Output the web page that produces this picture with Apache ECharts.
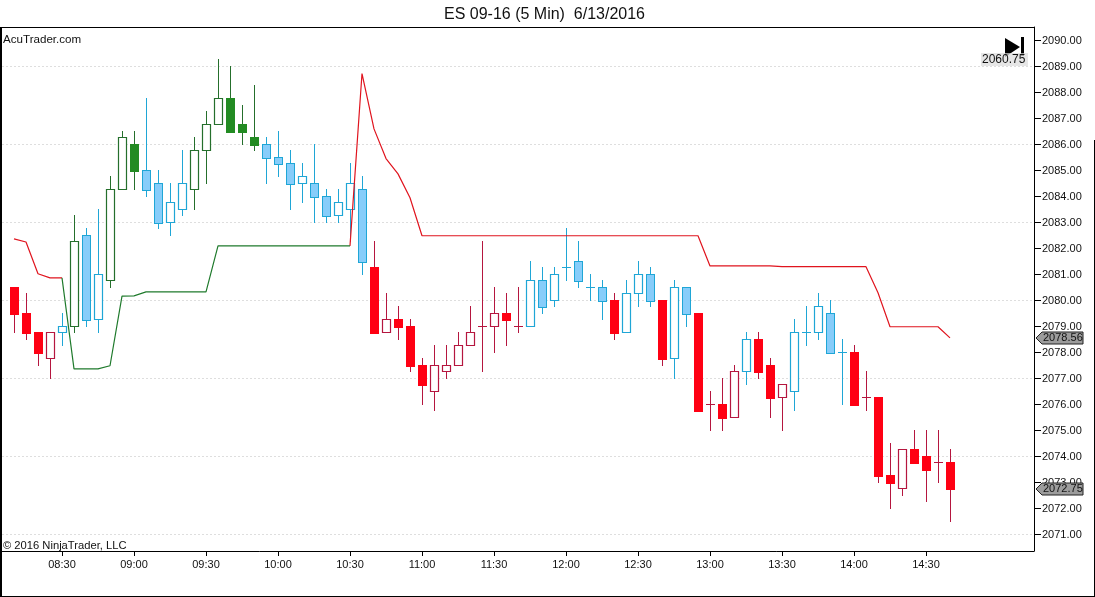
<!DOCTYPE html>
<html>
<head>
<meta charset="utf-8">
<title>ES 09-16 (5 Min)</title>
<style>
html, body { margin: 0; padding: 0; background: #fff; }
#chart { width: 1095px; height: 597px; }
</style>
<script src="https://cdn.jsdelivr.net/npm/echarts@6/dist/echarts.min.js"></script>
</head>
<body>
<div id="chart"></div>
<script>
// time axis, one leading and a few trailing empty slots around the bars
var times = [
    "08:05","08:10","08:15","08:20","08:25","08:30","08:35","08:40","08:45","08:50","08:55",
    "09:00","09:05","09:10","09:15","09:20","09:25","09:30","09:35","09:40","09:45","09:50","09:55",
    "10:00","10:05","10:10","10:15","10:20","10:25","10:30","10:35","10:40","10:45","10:50","10:55",
    "11:00","11:05","11:10","11:15","11:20","11:25","11:30","11:35","11:40","11:45","11:50","11:55",
    "12:00","12:05","12:10","12:15","12:20","12:25","12:30","12:35","12:40","12:45","12:50","12:55",
    "13:00","13:05","13:10","13:15","13:20","13:25","13:30","13:35","13:40","13:45","13:50","13:55",
    "14:00","14:05","14:10","14:15","14:20","14:25","14:30","14:35","14:40","14:45","14:50","14:55",
    "15:00","15:05","15:10","15:15"
]
var timeLabels = ["08:30","09:00","09:30","10:00","10:30","11:00","11:30","12:00","12:30","13:00","13:30","14:00","14:30"]
var priceTicks = [2071,2072,2073,2074,2075,2076,2077,2078,2079,2080,2081,2082,2083,2084,2085,2086,2087,2088,2089,2090]

var barOpen = [
    2080.5,2079.5,2078.75,2077.75,2078.75,2079,2082.5,2079.25,2080.75,2084.25,
    2086,2085,2084.5,2083,2083.5,2084.25,2085.75,2086.75,2087.75,2086.75,
    2086.25,2086,2085.5,2085.25,2084.5,2084.5,2084,2083.25,2083.5,2084.25,
    2081.25,2078.75,2079.25,2079,2077.5,2076.5,2077.25,2077.5,2078.25,2079,
    2079,2079.5,2079,2079,2080.75,2080,2081.25,2081.5,2080.5,2080.5,
    2080,2078.75,2080.25,2081,2080,2077.75,2080.5,2079.5,2076,2076,
    2075.5,2077.25,2078.5,2077.5,2076.25,2076.5,2078.75,2078.75,2079.5,2078,
    2078,2076.25,2076.25,2073.25,2072.75,2074.25,2074,2073.75,2073.75
]
var barHigh = [
    2080.5,2080.25,2078.75,2078.75,2079.5,2083.25,2082.75,2083.5,2084.75,2086.5,
    2086.5,2087.75,2085,2084.5,2085.75,2086.25,2087.25,2089.25,2089,2087.5,
    2088.25,2086.25,2086.5,2085.75,2085.25,2086,2084.25,2084.25,2085.25,2084.75,
    2082.25,2080.25,2079.75,2079.25,2077.75,2078.25,2078.25,2078.75,2079.75,2082.25,
    2080.5,2080.25,2080.5,2081.5,2081.25,2081.25,2082.75,2082.25,2081,2080.75,
    2080.25,2080.75,2081.5,2081.25,2080,2080.75,2080.5,2079.5,2076.5,2077,
    2077.5,2078.75,2078.75,2077.75,2076.75,2079.25,2079.75,2080.25,2080,2078.5,
    2078.25,2077.25,2076.25,2074.5,2074.25,2075,2075,2075,2074.25
]
var barLow = [
    2078.75,2078.5,2077.5,2077,2078.25,2078.75,2079,2078.75,2080.5,2084.25,
    2084.25,2084,2082.75,2082.5,2083.25,2083.5,2084.5,2086.75,2086.5,2086,
    2085.75,2084.5,2084.75,2083.5,2083.75,2083,2083,2083,2082.25,2081,
    2078.75,2078.75,2078.5,2077.25,2076,2075.75,2077,2077.5,2078.25,2077.25,
    2078,2078.25,2078.75,2079,2079.5,2079.75,2080.75,2080.5,2080,2079.25,
    2078.5,2078.75,2079.75,2079.75,2077.5,2077,2079,2075.75,2075,2075,
    2075.5,2076.75,2077,2075.5,2075,2075.75,2078.25,2078.5,2078,2076,
    2076,2075.75,2073,2072,2072.5,2073.75,2072.25,2073,2071.5
]
var barClose = [
    2079.5,2078.75,2078,2078.75,2079,2082.25,2079.25,2081,2084.25,2086.25,
    2085,2084.25,2083,2083.75,2084.5,2085.75,2086.75,2087.75,2086.5,2086.5,
    2086,2085.5,2085.25,2084.5,2084.75,2084,2083.25,2083.75,2084.5,2081.5,
    2078.75,2079.25,2079,2077.5,2076.75,2077.5,2077.5,2078.25,2078.75,2079,
    2079.5,2079.25,2079,2080.75,2079.75,2081,2081.25,2080.75,2080.5,2080,
    2078.75,2080.25,2081,2080,2077.75,2080.5,2079.5,2075.75,2076,2075.5,
    2077.25,2078.5,2077.25,2076.25,2076.75,2078.75,2078.75,2079.75,2078,2078,
    2076,2076.25,2073.25,2073,2074.25,2073.75,2073.5,2073.75,2072.75
]
// r = red, b = blue, g = green
var barZone = [
    "r","r","r","r","b","g","b","b","g","g",
    "g","b","b","b","b","g","g","g","g","g",
    "g","b","b","b","b","b","b","b","b","b",
    "r","r","r","r","r","r","r","r","r","r",
    "r","r","r","b","b","b","b","b","b","b",
    "r","b","b","b","r","b","b","r","r","r",
    "r","b","r","r","r","b","b","b","b","b",
    "r","r","r","r","r","r","r","r","r"
]
var trailLine = [
    2082.37,2082.25,2081.03,2080.87,2080.87,2077.37,2077.37,2077.37,2077.49,2080.17,
    2080.18,2080.33,2080.33,2080.33,2080.33,2080.33,2080.33,2082.1,2082.1,2082.1,
    2082.1,2082.1,2082.1,2082.1,2082.1,2082.1,2082.1,2082.1,2082.1,2088.73,
    2086.6,2085.46,2084.87,2083.95,2082.49,2082.49,2082.49,2082.49,2082.49,2082.49,
    2082.49,2082.49,2082.49,2082.49,2082.49,2082.49,2082.49,2082.49,2082.49,2082.49,
    2082.49,2082.49,2082.49,2082.49,2082.49,2082.49,2082.49,2082.49,2081.33,2081.33,
    2081.33,2081.33,2081.33,2081.33,2081.3,2081.3,2081.3,2081.3,2081.3,2081.3,
    2081.3,2081.3,2080.3,2078.99,2078.99,2078.99,2078.99,2078.99,2078.56
]
// bar index where the trail turns green, and where it turns red again
var trailGreenFrom = 4
var trailGreenTo = 28
var priceTags = [2078.56, 2072.75]

var zone_style = {
    r: { wick: "#b5163f", hollow: "#b5163f", fill: "#ff0013", edge: "#ff0013" },
    b: { wick: "#1fa6d6", hollow: "#1fa6d6", fill: "#87cdfa", edge: "#1fa6d6" },
    g: { wick: "#256f2c", hollow: "#256f2c", fill: "#228b22", edge: "#228b22" }
}

function render_bar(params, api) {
    var i = params.dataIndex
    var slot = api.value(0)
    var open_y = api.coord([slot, api.value(1)])
    var x = Math.round(open_y[0])
    var hi_y = Math.floor(api.coord([slot, api.value(2)])[1])
    var lo_y = Math.ceil(api.coord([slot, api.value(3)])[1])
    var o = open_y[1]
    var c = api.coord([slot, api.value(4)])[1]
    var style = zone_style[barZone[i]]
    var children = [{
        type: "rect",
        shape: { x: x, y: hi_y, width: 1, height: lo_y - hi_y },
        style: { fill: style.wick }
    }]
    if (barOpen[i] == barClose[i]) {
        // doji, only a dash across the wick
        children.push({
            type: "rect",
            shape: { x: x - 4, y: Math.floor(o), width: 9, height: 1 },
            style: { fill: style.wick }
        })
    } else if (barClose[i] < barOpen[i]) {
        var top = Math.floor(o)
        children.push({
            type: "rect",
            shape: { x: x - 4, y: top, width: 9, height: Math.ceil(c) - top + 1 },
            style: { fill: style.edge }
        })
        if (style.edge != style.fill) {
            children.push({
                type: "rect",
                shape: { x: x - 3, y: top + 1, width: 7, height: Math.ceil(c) - top - 1 },
                style: { fill: style.fill }
            })
        }
    } else {
        var up_top = Math.floor(c)
        children.push({
            type: "rect",
            shape: { x: x - 3.5, y: up_top + 0.5, width: 8, height: Math.floor(o) - up_top },
            style: { fill: "#fff", stroke: style.hollow, lineWidth: 1.2 }
        })
    }
    return { type: "group", children: children }
}

function render_tag(params, api) {
    var price = api.value(0)
    var y = Math.round(api.coord([0, price])[1])
    return {
        type: "group",
        children: [{
            type: "polygon",
            shape: { points: [[1036, y], [1042, y - 6], [1083, y - 6], [1083, y + 6], [1042, y + 6]] },
            style: { fill: "#9c9c9c", stroke: "#222", lineWidth: 1 }
        }, {
            type: "text",
            style: {
                x: 1043, y: y, text: price.toFixed(2), fill: "#111",
                font: "11px 'Liberation Sans'", verticalAlign: "middle"
            }
        }]
    }
}

var bar_rows = []
for (var i = 0; i < barOpen.length; i++) {
    bar_rows.push([i + 1, barOpen[i], barHigh[i], barLow[i], barClose[i]])
}
var red_line = [null]
var green_line = [null]
for (var j = 0; j < trailLine.length; j++) {
    var green = j >= trailGreenFrom && j <= trailGreenTo
    var red = j <= trailGreenFrom || j >= trailGreenTo
    green_line.push(green ? trailLine[j] : null)
    red_line.push(red ? trailLine[j] : null)
}

var myChart = echarts.init(document.getElementById("chart"), null, { renderer: "canvas" })
myChart.setOption({
    animation: false,
    backgroundColor: "#fff",
    textStyle: { fontFamily: "'Liberation Sans', Arial, sans-serif" },
    title: {
        text: "ES 09-16 (5 Min)  6/13/2016",
        left: 539.5,
        top: 2,
        textAlign: "center",
        textStyle: { color: "#111", fontSize: 16, fontWeight: "normal", fontFamily: "'Liberation Sans'" }
    },
    grid: { left: 2, right: 61, top: 27, bottom: 46 },
    xAxis: {
        type: "category",
        boundaryGap: false,
        data: times,
        axisLine: { lineStyle: { color: "#000", width: 1 } },
        axisTick: {
            length: 5,
            lineStyle: { color: "#000" },
            interval: function (idx, val) { return timeLabels.indexOf(val) != -1 }
        },
        axisLabel: {
            color: "#111",
            fontSize: 11,
            margin: 8,
            interval: function (idx, val) { return timeLabels.indexOf(val) != -1 }
        },
        splitLine: { show: false }
    },
    yAxis: {
        type: "value",
        position: "right",
        min: 2070.365,
        max: 2090.519,
        axisLine: { show: true, lineStyle: { color: "#000", width: 1 } },
        axisTick: { show: true, length: 7, customValues: priceTicks, lineStyle: { color: "#000" } },
        axisLabel: {
            color: "#111",
            fontSize: 11,
            margin: 8,
            padding: [3, 0, 0, 0],
            customValues: priceTicks,
            formatter: function (v) { return v.toFixed(2) }
        },
        splitLine: {
            show: true,
            lineStyle: { color: ["#dedede", "transparent", "transparent"], type: [2, 2], width: 1 }
        }
    },
    graphic: [
        { type: "rect", shape: { x: 0, y: 27, width: 2, height: 570 }, style: { fill: "#000" }, z: 5 },
        { type: "rect", shape: { x: 0, y: 27, width: 1034, height: 1 }, style: { fill: "#000" }, z: 5 },
        { type: "rect", shape: { x: 0, y: 596, width: 1095, height: 1 }, style: { fill: "#000" }, z: 5 },
        { type: "rect", shape: { x: 1094, y: 140, width: 1, height: 457 }, style: { fill: "#000" }, z: 5 },
        { type: "text", x: 3, y: 34, style: { text: "AcuTrader.com", fill: "#111", font: "11.6px 'Liberation Sans'" }, z: 5 },
        { type: "text", x: 3, y: 540, style: { text: "\u00a9 2016 NinjaTrader, LLC", fill: "#111", font: "11.2px 'Liberation Sans'" }, z: 5 },
        { type: "polygon", shape: { points: [[1005, 38], [1020, 47], [1005, 57]] }, style: { fill: "#000" }, z: 5 },
        { type: "rect", shape: { x: 1021, y: 37, width: 3, height: 19 }, style: { fill: "#000" }, z: 5 },
        { type: "rect", shape: { x: 981, y: 53, width: 47, height: 13 }, style: { fill: "rgba(220,220,220,0.7)" }, z: 6 },
        { type: "text", x: 982, y: 54, style: { text: "2060.75", fill: "#111", font: "12px 'Liberation Sans'" }, z: 7 }
    ],
    series: [
        {
            name: "bars",
            type: "custom",
            renderItem: render_bar,
            encode: { x: 0, y: [1, 2, 3, 4] },
            data: bar_rows,
            z: 3
        },
        {
            name: "trail red",
            type: "line",
            data: red_line,
            showSymbol: false,
            lineStyle: { color: "#e0141e", width: 1.2 },
            z: 4
        },
        {
            name: "trail green",
            type: "line",
            data: green_line,
            showSymbol: false,
            lineStyle: { color: "#1f7a2c", width: 1.2 },
            z: 4
        },
        {
            name: "price tags",
            type: "custom",
            renderItem: render_tag,
            encode: { y: 0 },
            clip: false,
            data: priceTags.map(function (p) { return [p] }),
            z: 8
        }
    ]
})
</script>
</body>
</html>
